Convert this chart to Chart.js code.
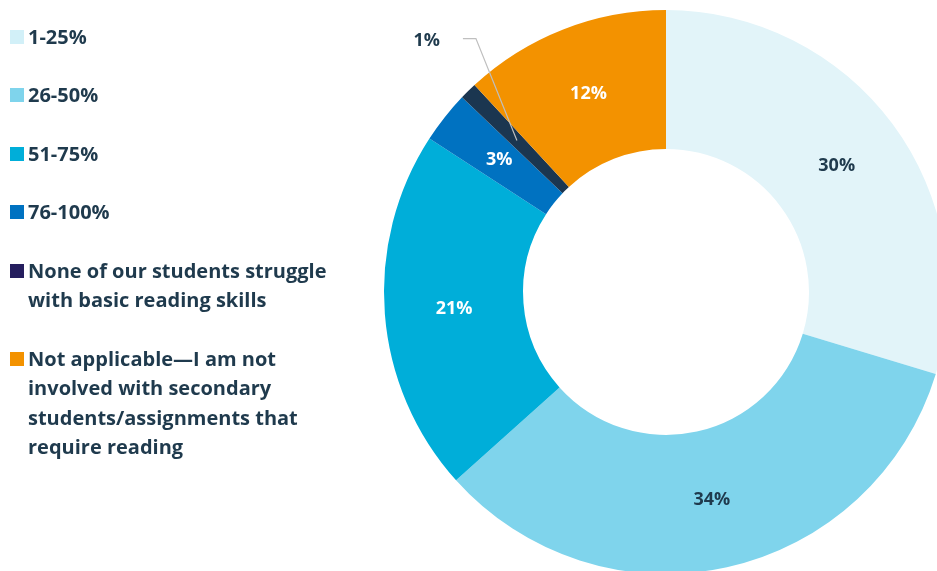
<!DOCTYPE html>
<html>
<head>
<meta charset="utf-8">
<script src="https://cdn.jsdelivr.net/npm/chart.js@4"></script>
<style>
  html, body { margin: 0; padding: 0; overflow: hidden; background: #ffffff; }
  #wrap { position: absolute; left: 0; top: 0; width: 960px; height: 580px; }
</style>
</head>
<body>
<div id="wrap"><canvas id="c"></canvas></div>
<script>
// Share of secondary students who struggle with basic reading skills
const categories = [
  '1-25%',
  '26-50%',
  '51-75%',
  '76-100%',
  'None of our students struggle with basic reading skills',
  'Not applicable—I am not involved with secondary students/assignments that require reading'
];
const legendLines = [
  ['1-25%'],
  ['26-50%'],
  ['51-75%'],
  ['76-100%'],
  ['None of our students struggle', 'with basic reading skills'],
  ['Not applicable—I am not', 'involved with secondary', 'students/assignments that', 'require reading']
];
const shares = [30, 34, 21, 3, 1, 12];
const valueLabels = ['30%', '34%', '21%', '3%', '1%', '12%'];

const sliceColors  = ['#E2F4F9', '#7FD4EC', '#00AED9', '#0072C1', '#1B3650', '#F39200'];
const swatchColors = ['#D2F0F8', '#7FD4EC', '#00AED9', '#0072C1', '#251E5E', '#F39200'];
const labelColors  = ['#1F3A4D', '#1F3A4D', '#ffffff', '#ffffff', '#1F3A4D', '#ffffff'];
const calloutIndex = 4;   // the thin slice gets its label outside with a leader line

const TEXT_DARK = '#1F3A4D';

// Legend in the left column, multi-line items
const sideLegend = {
  id: 'sideLegend',
  afterDraw(chart) {
    const ctx = chart.ctx;
    const font = 'bold 20px "Open Sans", "DejaVu Sans", sans-serif';
    const lineH = 29.5, itemGap = 58.5, capH = 14.3;
    let cy = 36.5;
    ctx.save();
    ctx.font = font;
    ctx.textAlign = 'left';
    ctx.textBaseline = 'alphabetic';
    legendLines.forEach((lines, i) => {
      ctx.fillStyle = swatchColors[i];
      ctx.fillRect(10, Math.round(cy - 7), 14, 14);
      ctx.fillStyle = TEXT_DARK;
      lines.forEach((ln, k) => {
        ctx.fillText(ln, 28, cy + k * lineH + capH / 2);
      });
      cy += (lines.length - 1) * lineH + itemGap;
    });
    ctx.restore();
  }
};

// Percentage labels on the ring
const sliceLabels = {
  id: 'sliceLabels',
  afterDatasetsDraw(chart) {
    const ctx = chart.ctx;
    const arcs = chart.getDatasetMeta(0).data;
    ctx.save();
    ctx.font = 'bold 18px "Open Sans", "Liberation Sans", sans-serif';
    ctx.textBaseline = 'middle';
    arcs.forEach((arc, i) => {
      const p = arc.getProps(['x', 'y', 'startAngle', 'endAngle', 'innerRadius', 'outerRadius'], true);
      const mid = (p.startAngle + p.endAngle) / 2;
      const rMid = (p.innerRadius + p.outerRadius) / 2;
      const ax = p.x + Math.cos(mid) * rMid;
      const ay = p.y + Math.sin(mid) * rMid;
      if (i === calloutIndex) {
        const ex = ax - 41, ey = ay - 102;
        ctx.strokeStyle = '#BFBFBF';
        ctx.lineWidth = 1.2;
        ctx.beginPath();
        ctx.moveTo(ax, ay);
        ctx.lineTo(ex, ey);
        ctx.lineTo(ex - 13, ey);
        ctx.stroke();
        ctx.fillStyle = labelColors[i];
        ctx.textAlign = 'right';
        ctx.fillText(valueLabels[i], ex - 36, ey + 2);
      } else {
        ctx.fillStyle = labelColors[i];
        ctx.textAlign = 'center';
        ctx.fillText(valueLabels[i], ax, ay);
      }
    });
    ctx.restore();
  }
};

new Chart(document.getElementById('c'), {
  type: 'doughnut',
  data: {
    labels: categories,
    datasets: [{
      data: shares,
      backgroundColor: sliceColors,
      borderWidth: 0
    }]
  },
  options: {
    responsive: true,
    maintainAspectRatio: false,
    animation: false,
    cutout: '50.7%',
    layout: { padding: { left: 384, right: 12, top: 10, bottom: 6 } },
    plugins: {
      legend: { display: false },
      tooltip: { enabled: false }
    }
  },
  plugins: [sliceLabels, sideLegend]
});
</script>
</body>
</html>
